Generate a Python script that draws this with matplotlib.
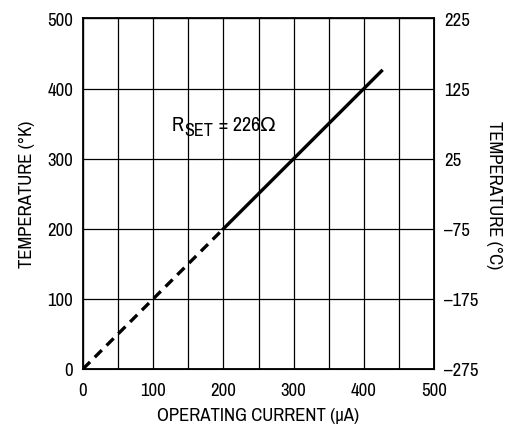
import matplotlib
matplotlib.use('Agg')
import matplotlib.pyplot as plt
from matplotlib import font_manager

# data (T in K = current in uA for RSET = 226 ohm)
i_dash = [0, 195]
t_dash = [0, 195]
i_solid = [200, 425]
t_solid = [200, 425]

xticks = [0, 100, 200, 300, 400, 500]
yticks = [0, 100, 200, 300, 400, 500]
cticks = ['\u2013275', '\u2013175', '\u201375', '25', '125', '225']

names = {f.name for f in font_manager.fontManager.ttflist}
fam = 'DejaVu Sans'
for n in ['Archivo Narrow', 'Liberation Sans Narrow', 'Roboto Condensed']:
    if n in names:
        fam = n
        break
plt.rcParams['font.family'] = [fam, 'DejaVu Sans']

fig = plt.figure(figsize=(5.12, 4.27), dpi=100)
ax = fig.add_axes([0.162, 0.1335, 0.686, 0.821])

ax.plot(i_dash, t_dash, '--', color='k', lw=2.4, dashes=(3.0, 2.0))
ax.plot(i_solid, t_solid, '-', color='k', lw=2.4)

ax.set_xlim(0, 500)
ax.set_ylim(0, 500)
ax.set_xticks(xticks)
ax.set_yticks(yticks)
ax.set_xticks(range(0, 501, 50), minor=True)
ax.grid(which='both', axis='x', color='k', lw=0.9)
ax.grid(which='major', axis='y', color='k', lw=0.9)
ax.tick_params(which='both', length=0, labelsize=13.5)
ax.tick_params(axis='x', pad=9.5)
ax.tick_params(axis='y', pad=7)
for s in ax.spines.values():
    s.set_linewidth(1.3)

ax.set_xlabel('OPERATING CURRENT (\u03bcA)', fontsize=13.5, labelpad=6)
ax.set_ylabel('TEMPERATURE (\u00b0K)', fontsize=13.5, labelpad=9)

ax2 = ax.twinx()
ax2.set_ylim(0, 500)
ax2.set_yticks(yticks)
ax2.set_yticklabels(cticks)
ax2.tick_params(length=0, labelsize=13.5, pad=7)
ax2.set_ylabel('TEMPERATURE (\u00b0C)', fontsize=13.5, rotation=270, labelpad=17)

t1 = ax.text(126.8, 340.5, 'R', fontsize=14.5, va='baseline')
t2 = ax.annotate('SET', xy=(1, 0), xycoords=t1, xytext=(0.2, -3), textcoords='offset points',
                 fontsize=13, va='bottom')
ax.annotate(' = 226\u03a9', xy=(1, 0), xycoords=t2, xytext=(0.8, 3), textcoords='offset points',
            fontsize=14.5, va='bottom')

fig.savefig('out.png', dpi=100)
